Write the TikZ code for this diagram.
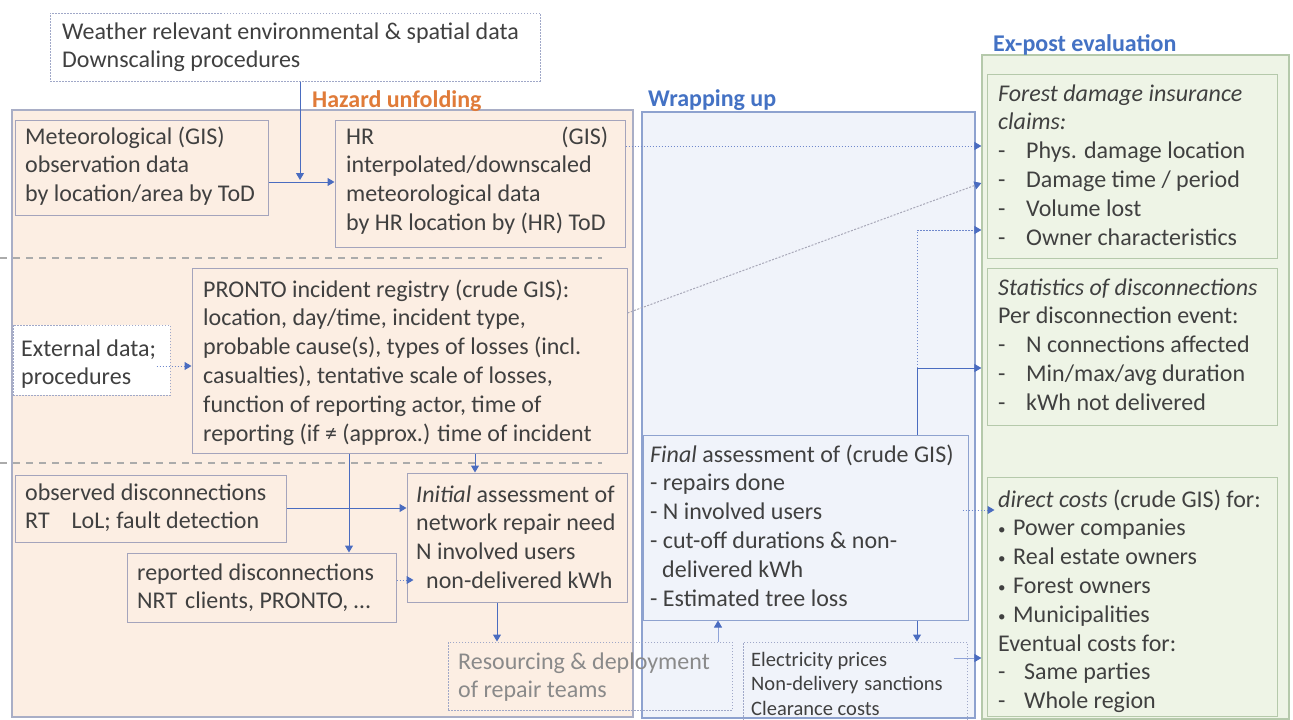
\documentclass[tikz,border=0pt]{standalone}
\usepackage{fontspec}
\setmainfont{Carlito}
\usetikzlibrary{arrows.meta,fit}

\definecolor{txt}{HTML}{404040}
\definecolor{hazfill}{HTML}{FCEEE3}
\definecolor{hazline}{HTML}{A9AEC6}
\definecolor{hboxline}{HTML}{A4A4BC}
\definecolor{wrapfill}{HTML}{F0F3FA}
\definecolor{wrapline}{HTML}{8EA2CF}
\definecolor{expfill}{HTML}{EEF4E6}
\definecolor{expline}{HTML}{B5C9AB}
\definecolor{dotline}{HTML}{A0A8C8}
\definecolor{arrblue}{HTML}{4A6CC0}
\definecolor{dotblue}{HTML}{7088CC}
\definecolor{lightblue}{HTML}{8FA3D8}
\definecolor{diaggray}{HTML}{A8A8B8}
\definecolor{sepgray}{HTML}{ABABAB}
\definecolor{orangelbl}{HTML}{E07B39}
\definecolor{bluelbl}{HTML}{4472C4}
\definecolor{greytxt}{HTML}{8A8A8A}

% multi-line text whose baseline is the first line
\newcommand\mlines[1]{\begin{tabular}[t]{@{}l@{}}#1\end{tabular}}
\newcommand\dashitem[1]{\makebox[28pt][l]{-}#1}
\newcommand\bulitem[1]{\makebox[15pt][l]{\raisebox{1pt}{\fontsize{15}{15}\selectfont •}}#1}

\begin{document}
\begin{tikzpicture}[x=1pt,y=-1pt,
  every node/.style={font=\fontsize{24}{28.8}\selectfont, text=txt},
  hazreg/.style={draw=hazline, fill=hazfill, line width=1.2pt, inner sep=0pt},
  wrapreg/.style={draw=wrapline, fill=wrapfill, line width=1.2pt, inner sep=0pt},
  expreg/.style={draw=expline, fill=expfill, line width=1.2pt, inner sep=0pt},
  hbox/.style={draw=hboxline, fill=hazfill, line width=1pt, inner sep=0pt},
  wbox/.style={draw=wrapline, fill=wrapfill, line width=1pt, inner sep=0pt},
  ebox/.style={draw=expline, fill=expfill, line width=1pt, inner sep=0pt},
  dotbox/.style={draw=dotline, dash pattern=on 1.5pt off 1.5pt, line width=1pt, inner sep=0pt},
  tx/.style={anchor=base west, inner sep=0pt},
  arr/.style={draw=arrblue, line width=1pt, -{Triangle[length=7pt,width=8pt]}},
  larr/.style={draw=lightblue, line width=1pt, -{Triangle[length=7pt,width=8pt,color=arrblue]}},
  darr/.style={draw=dotblue, line width=1pt, dash pattern=on 1.5pt off 1.5pt,
    -{Triangle[length=7pt,width=8pt,color=arrblue]}},
  sep/.style={draw=sepgray, line width=1.2pt, dash pattern=on 7pt off 6pt},
  lbl/.style={anchor=base west, inner sep=0pt, font=\fontsize{24}{28.8}\selectfont\bfseries}
]
\fill[white] (0,0) rectangle (1293,720);
\useasboundingbox (0,0) rectangle (1293,720);

% three phase regions
\node[hazreg, fit={(12,110)(633,717)}] (hazard) {};
\node[wrapreg, fit={(642,112)(975,718)}] (wrap) {};
\node[expreg, fit={(982,55)(1289,719)}] (expost) {};

\node[lbl, text=orangelbl] (lblhaz) at (312,107) {Hazard unfolding};
\node[lbl, text=bluelbl] (lblwrap) at (648,106) {Wrapping up};
\node[lbl, text=bluelbl] (lblexp) at (993,51) {Ex-post evaluation};

% dashed separators in the hazard region
\draw[sep] (0,258) -- (602,258);
\draw[sep] (0,463) -- (602,463);

% boxes
\node[dotbox, fill=white, fit={(50,13)(540,81)}] (weather) {};
\node[hbox, fit={(15,120)(268,215)}] (met) {};
\node[hbox, fit={(335,120)(625,247)}] (hr) {};
\node[dotbox, fill=white, fit={(13,325)(170,395)}] (ext) {};
\node[hbox, fit={(192,268)(627,453)}] (pronto) {};
\node[hbox, fit={(15,475)(286,542)}] (obs) {};
\node[hbox, fit={(127,553)(396,622)}] (rep) {};
\node[hbox, fit={(407,473)(627,602)}] (init) {};
\node[dotbox, fit={(448,642)(732,710)}] (res) {};
\node[wbox, fit={(643,435)(968,620)}] (final) {};
\node[dotbox, fit={(743,642)(967,730)}] (elec) {};
\node[ebox, fit={(987,74)(1277,258)}] (forest) {};
\node[ebox, fit={(987,268)(1277,425)}] (stat) {};
\node[ebox, fit={(987,477)(1277,716)}] (direct) {};

% junction points of connectors
\coordinate (j1) at (300,180);
\coordinate (j2) at (917,368);
\coordinate (j3) at (917,230);

% connectors
\draw[arr] (weather.south -| j1) -- (j1);
\draw[arr] (met.east |- 0,182) -- (hr.west |- 0,182);
\draw[darr] (hr.east |- 0,146) -- (expost.west |- 0,146);
\draw[draw=diaggray, line width=1pt, dash pattern=on 2pt off 1.5pt,
  -{Triangle[length=7pt,width=8pt,color=arrblue]}] (pronto.east |- 0,313) -- (expost.west |- 0,183);
\draw[arr] (final.north -| j2) -- (j2) -- (expost.west |- j2);
\draw[darr] (j2) -- (j3) -- (expost.west |- j3);
\draw[darr] ([xshift=-14pt]ext.east |- 0,366) -- (pronto.west |- 0,366);
\draw[arr] (pronto.south -| 349,0) -- (rep.north -| 349,0);
\draw[arr] (pronto.south -| 475,0) -- (init.north -| 475,0);
\draw[arr] (obs.east |- 0,508) -- (init.west |- 0,508);
\draw[darr] (rep.east |- 0,580) -- ([xshift=7pt]init.west |- 0,580);
\draw[arr] (init.south -| 497,0) -- (res.north -| 497,0);
\draw[larr] (res.north -| 718,0) -- (final.south -| 718,0);
\draw[arr] (final.south -| j2) -- (elec.north -| j2);
\draw[larr] ([xshift=-14pt]elec.east |- 0,658) -- (expost.west |- 0,658);
\draw[darr] ([xshift=-6pt]final.east |- 0,510) -- ([xshift=8pt]direct.west |- 0,510);

% texts
\node[tx] (weatherT) at (62,39) {\mlines{Weather relevant environmental \& spatial data\\Downscaling procedures}};
\node[tx] (metT) at (25,144) {\mlines{Meteorological (GIS)\\observation data\\by location/area by ToD}};
\node[tx] (hrT) at (346,144) {\mlines{\makebox[262pt][l]{HR\hfill(GIS)}\\interpolated/downscaled\\meteorological data\\by HR location by (HR) ToD}};
\node[tx] (extT) at (21,356) {\mlines{External data;\\procedures}};
\node[tx] (prontoT) at (203,297) {\mlines{PRONTO incident registry (crude GIS):\\location, day/time, incident type,\\probable cause(s), types of losses (incl.\\casualties), tentative scale of losses,\\function of reporting actor, time of\\reporting (if ≠ (approx.) time of incident}};
\node[tx] (obsT) at (25,500) {\mlines{observed disconnections\\RT\hspace{22pt}LoL; fault detection}};
\node[tx] (repT) at (137,580) {\mlines{reported disconnections\\NRT\hspace{8pt}clients, PRONTO, \dots}};
\node[tx] (initT) at (416,502) {\mlines{\textit{Initial} assessment of\\network repair need\\N involved users\\\hspace{10pt}non-delivered kWh}};
\node[tx, text=greytxt] (resT) at (458,669) {\mlines{Resourcing \& deployment\\of repair teams}};
\node[tx] (finalT) at (650,462) {\mlines{\textit{Final} assessment of (crude GIS)\\- repairs done\\- N involved users\\- cut-off durations \& non-\\\hspace{12pt}delivered kWh\\- Estimated tree loss}};
\node[tx, font=\fontsize{20.5}{24.5}\selectfont] (elecT) at (751,666) {\mlines{Electricity prices\\Non-delivery\hspace{6pt}sanctions\\Clearance costs}};
\node[tx] (forestT) at (998,101) {\mlines{\textit{Forest damage insurance}\\\textit{claims:}\\\dashitem{Phys. damage location}\\\dashitem{Damage time / period}\\\dashitem{Volume lost}\\\dashitem{Owner characteristics}}};
\node[tx] (statT) at (998,295) {\mlines{\textit{Statistics of disconnections}\\Per disconnection event:\\\dashitem{N connections affected}\\\dashitem{Min/max/avg duration}\\\dashitem{kWh not delivered}}};
\node[tx] (directT) at (998,507) {\mlines{\textit{direct costs} (crude GIS) for:\\\bulitem{Power companies}\\\bulitem{Real estate owners}\\\bulitem{Forest owners}\\\bulitem{Municipalities}\\Eventual costs for:\\\makebox[26pt][l]{-}Same parties\\\makebox[26pt][l]{-}Whole region}};
\end{tikzpicture}
\end{document}
